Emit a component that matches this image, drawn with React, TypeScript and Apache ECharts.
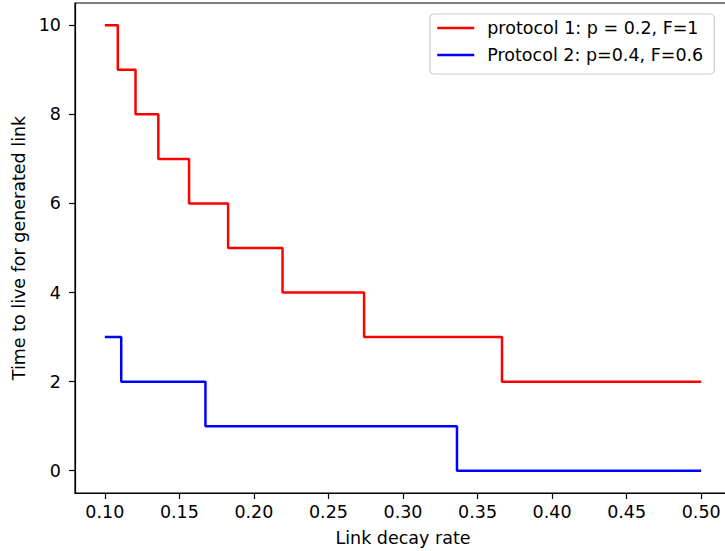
import React, { useEffect, useRef } from "react";
import * as echarts from "echarts";

const redX = [0.1, 0.1087, 0.1206, 0.1359, 0.1565, 0.1827, 0.2192, 0.2739, 0.3664, 0.5];
const redY = [10, 9, 8, 7, 6, 5, 4, 3, 2, 2];
const blueX = [0.1, 0.111, 0.1675, 0.3362, 0.5];
const blueY = [3, 2, 1, 0, 0];
const xTicks = [0.1, 0.15, 0.2, 0.25, 0.3, 0.35, 0.4, 0.45, 0.5];
const yTicks = [0, 2, 4, 6, 8, 10];
const seriesNames = ["protocol 1: p = 0.2, F=1", "Protocol 2: p=0.4, F=0.6"];

const FONT = "DejaVu Sans";
const FS = 17.5;

export default function App() {
  const ref = useRef<HTMLDivElement>(null);
  useEffect(() => {
    if (!ref.current) return;
    const chart = echarts.init(ref.current, undefined, { renderer: "svg" });
    chart.setOption({
      animation: false,
      backgroundColor: "#ffffff",
      textStyle: { fontFamily: FONT },
      grid: {
        left: 75,
        top: 3,
        width: 656,
        height: 490,
        containLabel: false,
        outerBoundsMode: "none",
        show: true,
        borderColor: "#000",
        borderWidth: 1.2,
        backgroundColor: "transparent",
      },
      xAxis: {
        type: "value",
        min: 0.08,
        max: 0.52,
        name: "Link decay rate",
        nameLocation: "middle",
        nameGap: 36,
        nameTextStyle: { fontSize: FS, color: "#000", fontFamily: FONT },
        axisLine: { show: true, onZero: false, lineStyle: { color: "#000", width: 1.2 } },
        splitLine: { show: false },
        axisTick: { show: true, length: 6, lineStyle: { color: "#000", width: 1.2 }, customValues: xTicks },
        axisLabel: {
          customValues: xTicks,
          margin: 10,
          fontSize: FS,
          color: "#000",
          fontFamily: FONT,
          formatter: (v: number) => v.toFixed(2),
        },
      },
      yAxis: {
        type: "value",
        min: -0.5,
        max: 10.5,
        name: "Time to live for generated link",
        nameLocation: "middle",
        nameGap: 46,
        nameRotate: 90,
        nameTextStyle: { fontSize: FS, color: "#000", fontFamily: FONT },
        axisLine: { show: true, onZero: false, lineStyle: { color: "#000", width: 1.2 } },
        splitLine: { show: false },
        axisTick: { show: true, length: 6, lineStyle: { color: "#000", width: 1.2 }, customValues: yTicks },
        axisLabel: {
          customValues: yTicks,
          margin: 14,
          fontSize: FS,
          color: "#000",
          fontFamily: FONT,
        },
      },
      legend: {
        left: 430,
        top: 14,
        orient: "vertical",
        itemWidth: 37,
        itemHeight: 18,
        itemGap: 9,
        padding: [5, 11, 10, 6],
        backgroundColor: "#fff",
        borderColor: "#cccccc",
        borderWidth: 1.2,
        borderRadius: 4,
        itemStyle: { opacity: 0 },
        lineStyle: { width: 2.5 },
        textStyle: { fontSize: FS, color: "#000", fontFamily: FONT, padding: [0, 0, 0, 8], lineHeight: 18 },
        data: seriesNames,
      },
      series: [
        {
          name: seriesNames[0],
          type: "line",
          step: "end",
          symbol: "none",
          color: "#ff0000",
          lineStyle: { color: "#ff0000", width: 2.5 },
          data: redX.map((x, i) => [x, redY[i]]),
        },
        {
          name: seriesNames[1],
          type: "line",
          step: "end",
          symbol: "none",
          color: "#0000ff",
          lineStyle: { color: "#0000ff", width: 2.5 },
          data: blueX.map((x, i) => [x, blueY[i]]),
        },
      ],
    });
    return () => chart.dispose();
  }, []);
  return (
    <div
      ref={ref}
      style={{ position: "absolute", left: 0, top: 0, width: 725, height: 551 }}
    />
  );
}
